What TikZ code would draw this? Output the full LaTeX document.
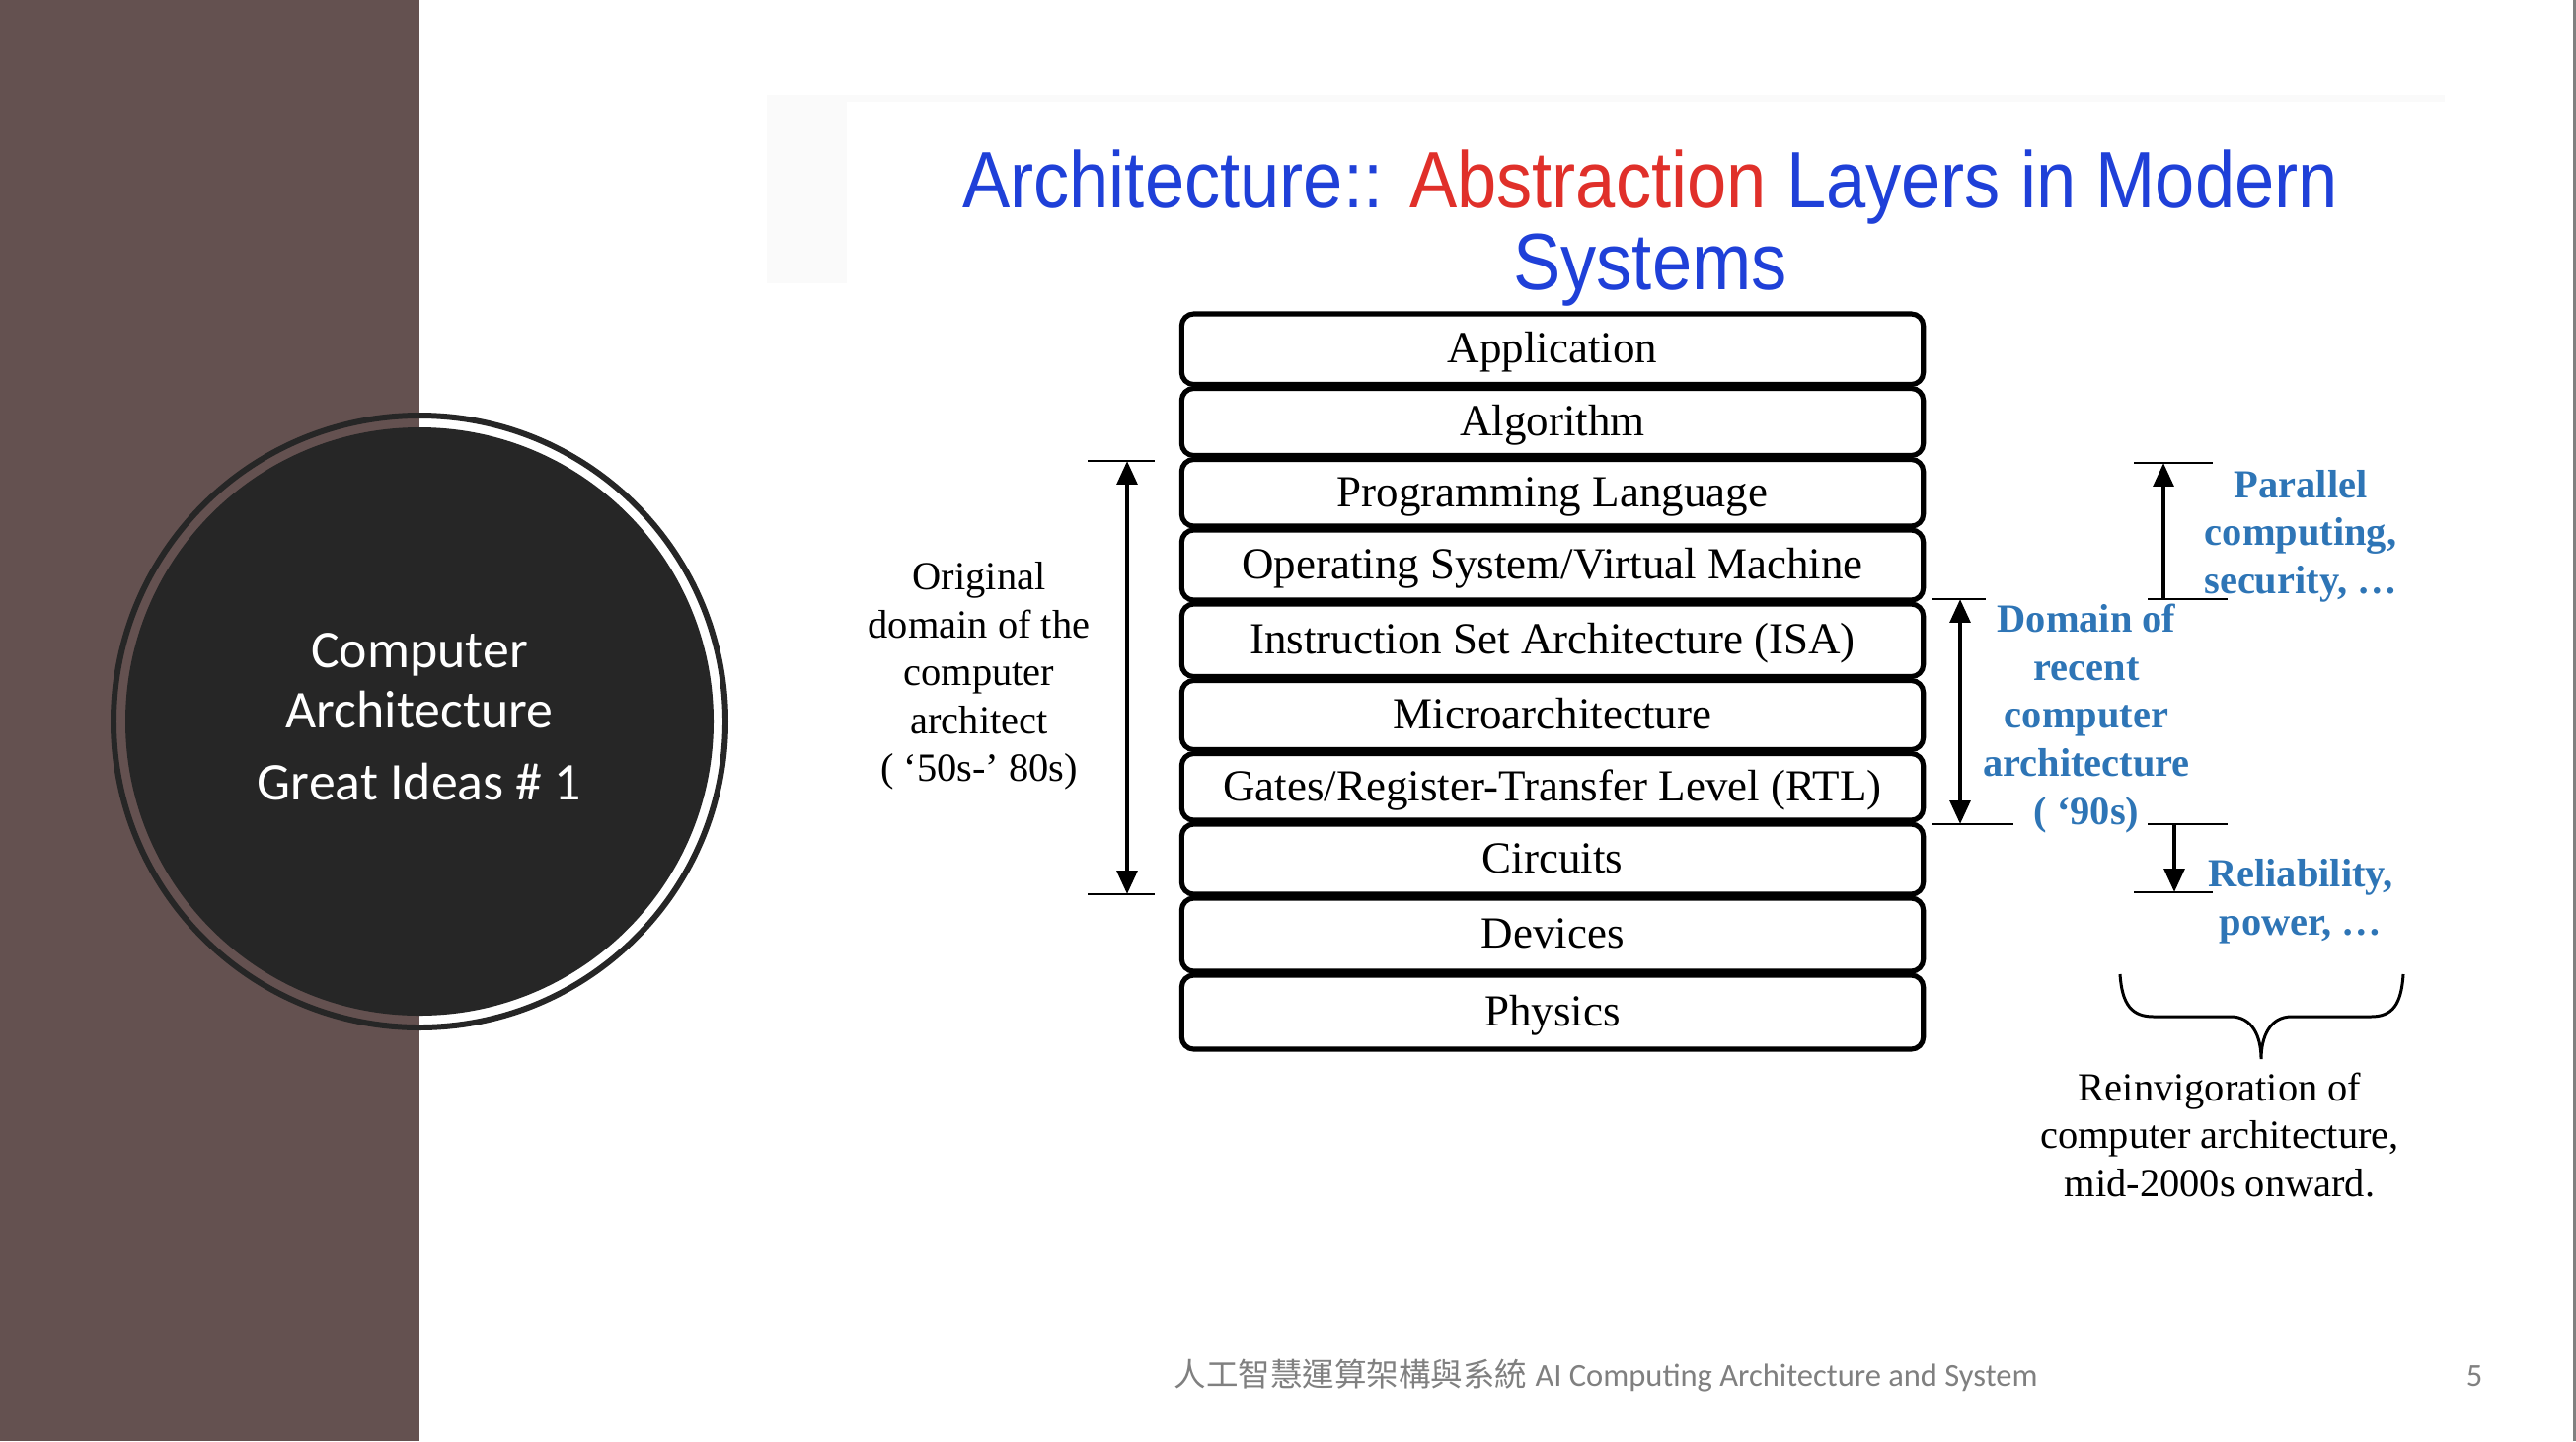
\documentclass[tikz,border=0pt]{standalone}
\usepackage{fontspec}
\setmainfont{Liberation Serif}
\newfontfamily\titlefont{Liberation Sans}
\newfontfamily\slidefont{Carlito}
\newfontfamily\cjkfont{Noto Sans CJK TC}
\usetikzlibrary{arrows.meta}
\definecolor{barbrown}{HTML}{645150}
\definecolor{disk}{HTML}{262626}
\definecolor{titleblue}{HTML}{1F40D8}
\definecolor{titlered}{HTML}{E0302A}
\definecolor{noteblue}{HTML}{2E75B6}
\definecolor{footgray}{HTML}{808080}
\definecolor{paper}{HTML}{FAFAFA}

\begin{document}
\begin{tikzpicture}[x=0.01cm,y=-0.01cm,
  layer/.style={draw, line width=1.45pt, rounded corners=3.5pt,
    minimum width=7.51cm, inner sep=0pt, text height=0.795em, text depth=0pt,
    font=\fontsize{12.8}{15}\selectfont},
  tick/.style={line width=0.75pt},
  headtip/.tip={Triangle[width=5.8pt,length=6.8pt]},
  span/.style={line width=1.3pt, headtip-headtip},
  oneway/.style={line width=1.3pt, -headtip},
  note/.style={align=center, inner sep=0pt, font=\fontsize{11.5}{13.8}\selectfont},
  bluenote/.style={align=center, inner sep=0pt, text=noteblue,
    font=\bfseries\fontsize{11.5}{13.8}\selectfont},
  disktext/.style={text=white, inner sep=0pt, font=\slidefont\fontsize{15.3}{18}\selectfont},
  titleline/.style={anchor=base, inner sep=0pt, font=\titlefont\fontsize{20.57}{24}\selectfont},
]
\useasboundingbox (0,0) rectangle (2610,1460);
\fill[white] (0,0) rectangle (2610,1460);

% side band and title disk
\fill[barbrown] (0,0) rectangle (425,1460);
\draw[disk, line width=1.7pt] (425,731) circle[radius=310];
\fill[disk] (425,731) circle[radius=298];
\node[disktext] (cname1) at (425,663) {Computer};
\node[disktext] (cname2) at (425,719) {Architecture};
\node[disktext] (cidea) at (425,792) {Great Ideas \# 1};

% right page edge
\draw[footgray, line width=0.6pt] (2608.5,0) -- (2608.5,1460);

% faint frame of the figure
\fill[paper] (777,96) rectangle (2477,103);
\fill[paper] (777,103) rectangle (858,287);

% title
\node[titleline] (title1) at (1672,210) {\scalebox{1}[1.12]{\textcolor{titleblue}{Architecture::} \textcolor{titlered}{Abstraction} \textcolor{titleblue}{Layers in Modern}}};
\node[titleline] (title2) at (1672,293) {\scalebox{1}[1.12]{\textcolor{titleblue}{Systems}}};

% abstraction layers
\node[layer, minimum height=0.715cm] (app)   at (1573,353.75) {Application};
\node[layer, minimum height=0.68cm]  (alg)   at (1573,427.5)  {Algorithm};
\node[layer, minimum height=0.675cm] (pl)    at (1573,499.25) {Programming Language};
\node[layer, minimum height=0.71cm]  (os)    at (1573,572.5)  {Operating System/Virtual Machine};
\node[layer, minimum height=0.735cm] (isa)   at (1573,648.75) {Instruction Set Architecture (ISA)};
\node[layer, minimum height=0.70cm]  (micro) at (1573,724.5)  {Microarchitecture};
\node[layer, minimum height=0.675cm] (rtl)   at (1573,797.25) {Gates/Register-Transfer Level (RTL)};
\node[layer, minimum height=0.71cm]  (circ)  at (1573,870.5)  {Circuits};
\node[layer, minimum height=0.74cm]  (dev)   at (1573,947)    {Devices};
\node[layer, minimum height=0.75cm]  (phys)  at (1573,1025.5) {Physics};

% original domain (left)
\coordinate (oTopA) at (1102,467);  \coordinate (oTopB) at (1170,467);
\coordinate (oBotA) at (1102,906);  \coordinate (oBotB) at (1170,906);
\coordinate (oArrT) at (1142,467);  \coordinate (oArrB) at (1142,906);
\draw[tick] (oTopA) -- (oTopB);
\draw[tick] (oBotA) -- (oBotB);
\draw[span] (oArrT) -- (oArrB);
\node[note] (orig) at (992,685) {Original\\domain of the\\computer\\architect\\( ‘50s-’ 80s)};

% recent domain (right)
\coordinate (dTopA) at (1957,607);  \coordinate (dTopB) at (2012,607);
\coordinate (dBotA) at (1957,835);  \coordinate (dBotB) at (2040,835);
\coordinate (dArrT) at (1986,607);  \coordinate (dArrB) at (1986,835);
\draw[tick] (dTopA) -- (dTopB);
\draw[tick] (dBotA) -- (dBotB);
\draw[span] (dArrT) -- (dArrB);
\node[bluenote] (recent) at (2114,728) {Domain of\\recent\\computer\\architecture\\( ‘90s)};

% upward extension
\coordinate (pTopA) at (2162,469);  \coordinate (pTopB) at (2242,469);
\coordinate (pBotA) at (2176,607);  \coordinate (pBotB) at (2257,607);
\coordinate (pArrT) at (2192,469);  \coordinate (pArrB) at (2192,607);
\draw[tick] (pTopA) -- (pTopB);
\draw[tick] (pBotA) -- (pBotB);
\draw[oneway] (pArrB) -- (pArrT);
\node[bluenote] (parallel) at (2331,543) {Parallel\\computing,\\security, \ldots};

% downward extension
\coordinate (rTopA) at (2176,835);  \coordinate (rTopB) at (2257,835);
\coordinate (rBotA) at (2162,904);  \coordinate (rBotB) at (2242,904);
\coordinate (rArrT) at (2203,835);  \coordinate (rArrB) at (2203,904);
\draw[tick] (rTopA) -- (rTopB);
\draw[tick] (rBotA) -- (rBotB);
\draw[oneway] (rArrT) -- (rArrB);
\node[bluenote] (reliab) at (2331,913) {Reliability,\\power, \ldots};

% brace over both extensions
\coordinate (bL) at (2148,987);
\coordinate (bTip) at (2291,1073);
\coordinate (bR) at (2435,987);
\draw[line width=0.85pt] (bL) .. controls (2150,1018) and (2160,1030) .. (2182,1030)
  -- (2260,1030) .. controls (2282,1030) and (2291,1050) .. (bTip)
  .. controls (2291,1050) and (2300,1030) .. (2322,1030)
  -- (2402,1030) .. controls (2424,1030) and (2433,1018) .. (bR);
\node[note] (reinv) at (2249,1150) {Reinvigoration of\\computer architecture,\\mid-2000s onward.};

% footer
\node[anchor=base, inner sep=0pt, text=footgray, font=\fontsize{9.25}{11}\selectfont] (foot) at (1627,1404)
  {{\cjkfont 人工智慧運算架構與系統} {\slidefont AI Computing Architecture and System}};
\node[anchor=base, inner sep=0pt, text=footgray, font=\slidefont\fontsize{9.25}{11}\selectfont] (pageno) at (2507,1404) {5};
\end{tikzpicture}
\end{document}
